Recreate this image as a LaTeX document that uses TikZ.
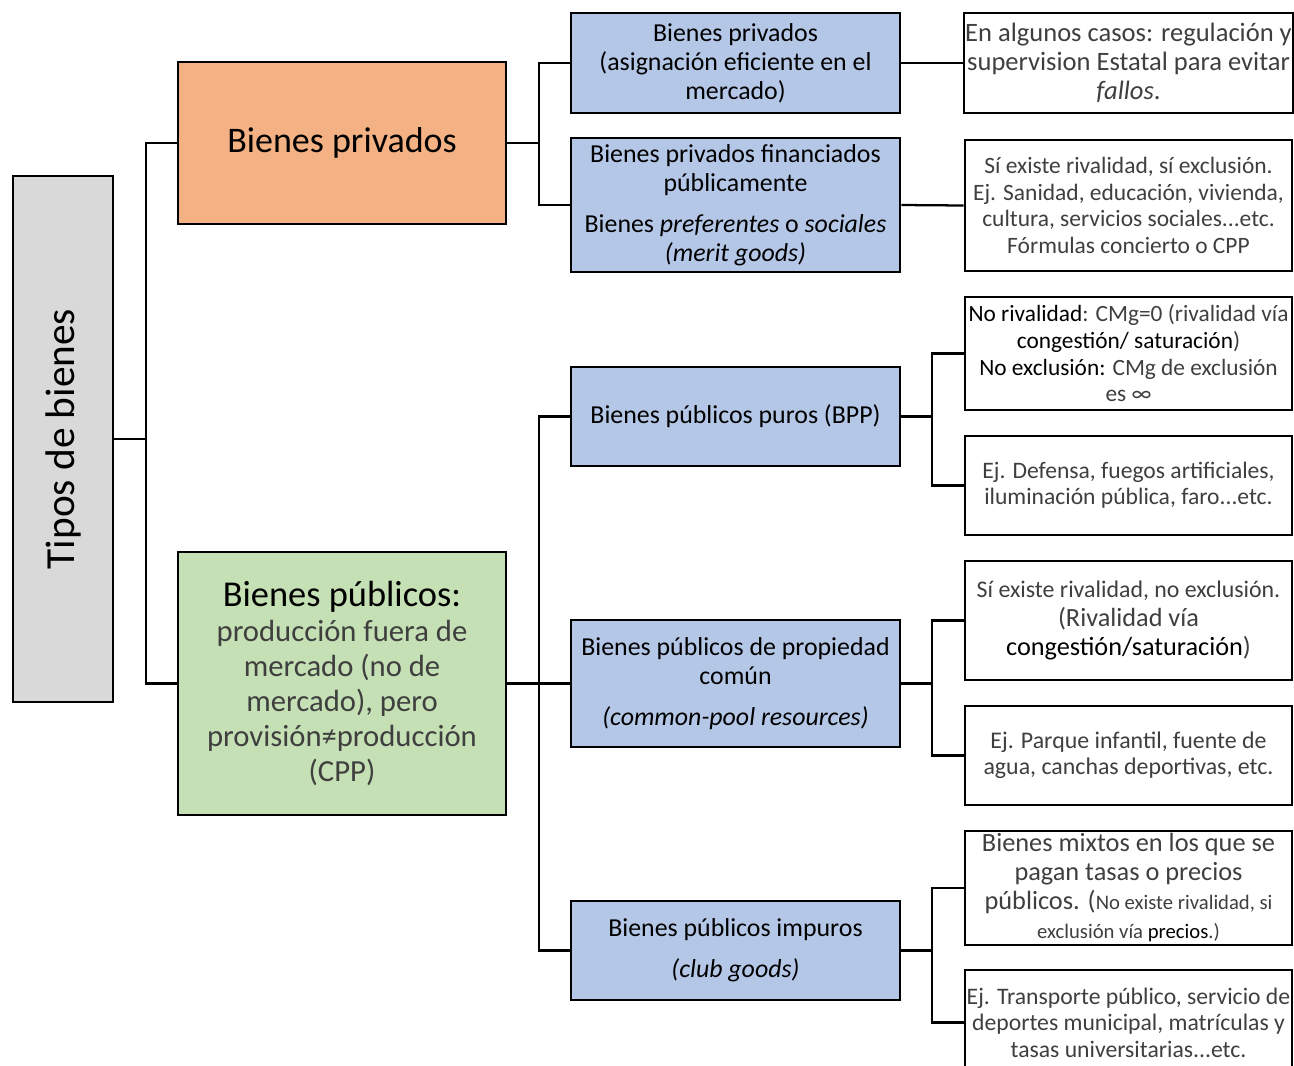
\documentclass[tikz,border=0pt]{standalone}
\usepackage{fontspec}
\setmainfont{Carlito}
\definecolor{cgray}{HTML}{D9D9D9}
\definecolor{corange}{HTML}{F4B183}
\definecolor{cgreen}{HTML}{C5E0B4}
\definecolor{cblue}{HTML}{B4C7E7}
\definecolor{lightt}{HTML}{3F3F3F}
\newcommand{\bk}[1]{\textcolor{black}{#1}}
\begin{document}
\begin{tikzpicture}[x=0.75pt,y=-0.75pt,
  box/.style={draw=black, line width=2.1pt, inner sep=1pt, align=center},
  sz/.style 2 args={minimum width={#1*0.75pt}, minimum height={#2*0.75pt}},
  bluebox/.style={box, fill=cblue, sz={329}{#1}, font=\fontsize{19.4}{21.75}\selectfont},
  whitebox/.style={box, fill=white, sz={327}{#1}, text=lightt},
  conn/.style={line width=1.7pt}]
\useasboundingbox (0,0) rectangle (1294,1065);
\clip (0,0) rectangle (1294,1065);
\coordinate (jA) at (146,0);
\coordinate (jB) at (539,0);
\coordinate (jC) at (932,0);

\node[box, fill=cgray, sz={100}{526}] (tipos) at (63,439)
  {\rotatebox{90}{\fontsize{31}{36}\selectfont Tipos de bienes}};
\node[box, fill=corange, sz={328}{162}] (priv) at (342,143)
  {\fontsize{27}{32}\selectfont Bienes privados};
\node[box, fill=cgreen, sz={328}{263}, font=\fontsize{23}{26.25}\selectfont] (pub) at (342,683.5)
  {{\fontsize{27.3}{32}\selectfont Bienes públicos:}\\
   \textcolor{lightt}{producción fuera de}\\
   \textcolor{lightt}{mercado (no de}\\
   \textcolor{lightt}{mercado), pero}\\
   \textcolor{lightt}{provisión≠producción}\\
   \textcolor{lightt}{(CPP)}};

\node[bluebox=100] (b1) at (735.5,63)
  {Bienes privados\\(asignación eficiente en el\\mercado)};
\node[bluebox=134] (b2) at (735.5,205)
  {Bienes privados financiados\\públicamente\\[9pt]Bienes \textit{preferentes} o \textit{sociales}\\\textit{(merit goods)}};
\node[bluebox=99] (b3) at (735.5,416.5)
  {Bienes públicos puros (BPP)};
\node[bluebox=127] (b4) at (735.5,683.5)
  {Bienes públicos de propiedad\\común\\[9pt]\textit{(common-pool resources)}};
\node[bluebox=99] (b5) at (735.5,950.5)
  {Bienes públicos impuros\\[9pt]\textit{(club goods)}};

\node[whitebox=100, font=\fontsize{19.9}{21.75}\selectfont] (w1) at (1128.5,63)
  {En algunos casos: regulación y\\supervision Estatal para evitar\\\textit{fallos}.};
\node[whitebox=131, font=\fontsize{17.6}{19.9}\selectfont] (w2) at (1128.5,205.5)
  {Sí existe rivalidad, sí exclusión.\\Ej. Sanidad, educación, vivienda,\\cultura, servicios sociales...etc.\\Fórmulas concierto o CPP};
\node[whitebox=113, font=\fontsize{17.5}{20}\selectfont] (w3) at (1128.5,353.5)
  {\bk{No rivalidad}: CMg=0 (rivalidad vía\\\bk{congestión/ saturación})\\\bk{No exclusión:} CMg de exclusión\\es ∞};
\node[whitebox=99, font=\fontsize{17.7}{19.5}\selectfont] (w4) at (1128.5,485.5)
  {Ej. Defensa, fuegos artificiales,\\iluminación pública, faro...etc.};
\node[whitebox=119, font=\fontsize{19.7}{21.75}\selectfont] (w5) at (1128.5,620.5)
  {{\fontsize{17.9}{20}\selectfont Sí existe rivalidad, no exclusión.}\\(Rivalidad vía\\\bk{congestión/saturación})};
\node[whitebox=99, font=\fontsize{17.9}{19.5}\selectfont] (w6) at (1128.5,755.5)
  {Ej. Parque infantil, fuente de\\agua, canchas deportivas, etc.};
\node[whitebox=114, font=\fontsize{19.75}{21.75}\selectfont] (w7) at (1128.5,888)
  {Bienes mixtos en los que se\\pagan tasas o precios\\públicos. ({\fontsize{15.5}{18}\selectfont No existe rivalidad, si}\\{\fontsize{15.5}{18}\selectfont exclusión vía \bk{precios}.)}};
\node[whitebox=105, font=\fontsize{17.75}{19.9}\selectfont] (w8) at (1128.5,1022.5)
  {Ej. Transporte público, servicio de\\deportes municipal, matrículas y\\tasas universitarias...etc.};

% connectors
\draw[conn] (tipos.east) -- (tipos.east -| jA);
\draw[conn] (priv.west) -- (priv.west -| jA) -- (pub.west -| jA) -- (pub.west);
\draw[conn] (priv.east) -- (priv.east -| jB);
\draw[conn] (b1.west) -- (b1.west -| jB) -- (b2.west -| jB) -- (b2.west);
\draw[conn] (pub.east) -- (b4.west);
\draw[conn] (b3.west) -- (b3.west -| jB) -- (b5.west -| jB) -- (b5.west);
\draw[conn] (b1.east) -- (w1.west);
\draw[conn] (b2.east) -- (w2.west);
\draw[conn] (b3.east) -- (b3.east -| jC);
\draw[conn] (w3.west) -- (w3.west -| jC) -- (w4.west -| jC) -- (w4.west);
\draw[conn] (b4.east) -- (b4.east -| jC);
\draw[conn] (w5.west) -- (w5.west -| jC) -- (w6.west -| jC) -- (w6.west);
\draw[conn] (b5.east) -- (b5.east -| jC);
\draw[conn] (w7.west) -- (w7.west -| jC) -- (w8.west -| jC) -- (w8.west);
\end{tikzpicture}
\end{document}
